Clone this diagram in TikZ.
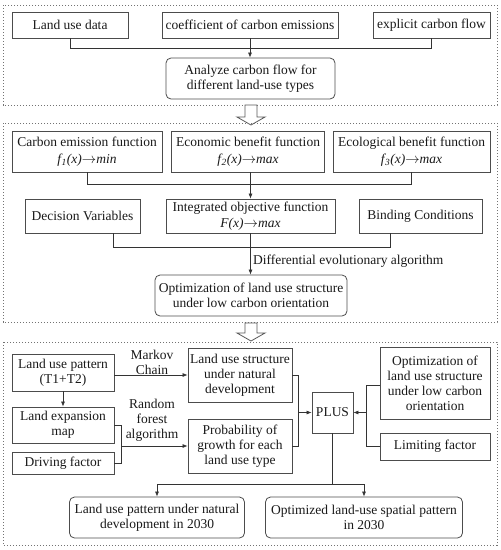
\documentclass[tikz,border=0pt]{standalone}
\usepackage{fontspec}
\setmainfont{Liberation Serif}
\usetikzlibrary{calc,arrows.meta}
\begin{document}
\begin{tikzpicture}[x=1pt,y=-1pt,
  font=\fontsize{13.5}{15}\selectfont,
  box/.style={draw=black!70,line width=0.8pt,inner sep=1pt,align=center,text=black!90},
  rbox/.style={box,rounded corners=5pt},
  fbox/.style={box,font=\fontsize{13.5}{16.5}\selectfont},
  frame/.style={draw=black!55,line width=0.9pt,dash pattern=on 1.1pt off 1.9pt},
  con/.style={draw=black!80,line width=0.7pt},
  arr/.style={con,-{Latex[length=5pt,width=4pt]}},
  hollow/.style={draw=black!65,line width=0.8pt,fill=white},
  lbl/.style={align=center,inner sep=0pt,text=black!90}]
\useasboundingbox (0,0) rectangle (501,550);
% ---------- block 1
\draw[frame] (3,5) rectangle (497,105);
\node[box,minimum width=116pt,minimum height=26pt] (lud) at (70,25) {Land use data};
\node[box,minimum width=176pt,minimum height=26pt] (coef) at (250,25) {coefficient of carbon emissions};
\node[box,minimum width=117pt,minimum height=26pt] (expl) at (431.5,25) {explicit carbon flow};
\node[rbox,minimum width=169pt,minimum height=41pt] (ana) at (250.5,78.5) {Analyze carbon flow for\\different land-use types};
\coordinate (j1) at ($(lud.south)+(0,10)$);
\draw[con] (lud.south) -- (j1) -| (expl.south);
\draw[arr] (coef.south) -- (coef.south |- ana.north);
% hollow arrow 1
\draw[hollow] (245,105) -- (257,105) -- (257,117) -- (265,117) -- (251,125) -- (237,117) -- (245,117) -- cycle;
% ---------- block 2
\draw[frame] (3,123) rectangle (497,322);
\node[fbox,minimum width=150pt,minimum height=41pt] (carb) at (87,151.5) {Carbon emission function\\\textit{f\kern0.5pt\textsubscript{1}(x)}$\rightarrow$\textit{min}};
\node[fbox,minimum width=153pt,minimum height=41pt] (econ) at (248,151.5) {Economic benefit function\\\textit{f\kern0.5pt\textsubscript{2}(x)}$\rightarrow$\textit{max}};
\node[fbox,minimum width=157pt,minimum height=41pt] (ecol) at (411.5,151.5) {Ecological benefit function\\\textit{f\kern0.5pt\textsubscript{3}(x)}$\rightarrow$\textit{max}};
\node[box,minimum width=115pt,minimum height=34pt] (dec) at (82.5,216) {Decision Variables};
\node[fbox,minimum width=169pt,minimum height=34pt] (integ) at (250.5,216) {Integrated objective function\\\textit{F(x)}$\rightarrow$\textit{max}};
\node[box,minimum width=123pt,minimum height=34pt] (bind) at (420.5,216) {Binding Conditions};
\node[rbox,minimum width=192pt,minimum height=41pt] (opt) at (251,295.5) {Optimization of land use structure\\under low carbon orientation};
\coordinate (j2) at ($(carb.south)+(0,12)$);
\draw[con] (carb.south) -- (j2) -| (ecol.south);
\draw[arr] (integ.north |- econ.south) -- (integ.north);
\coordinate (dA) at ($(dec.south east)+(-27,0)$);
\coordinate (bA) at ($(bind.south west)+(32,0)$);
\coordinate (j3) at ($(dA)+(0,14)$);
\draw[con] (dA) -- (j3) -| (bA);
\draw[arr] (integ.south) -- (integ.south |- opt.north);
\node[lbl,anchor=west] (dea) at (253,261) {Differential evolutionary algorithm};
% hollow arrow 2
\draw[hollow] (245,323) -- (257,323) -- (257,333) -- (265,333) -- (251,341) -- (237,333) -- (245,333) -- cycle;
% ---------- block 3
\draw[frame] (3,342) rectangle (497,545);
\node[box,minimum width=102pt,minimum height=37pt] (lup) at (63,372.5) {Land use pattern\\(T1+T2)};
\node[box,minimum width=104pt,minimum height=54pt] (lus) at (240,375) {Land use structure\\under natural\\development};
\node[box,minimum width=102pt,minimum height=36pt] (lem) at (63,425) {Land expansion\\map};
\node[box,minimum width=102pt,minimum height=22pt] (drv) at (63,463) {Driving factor};
\node[box,minimum width=104pt,minimum height=54pt] (prob) at (240,446) {Probability of\\growth for each\\land use type};
\node[box,minimum width=41pt,minimum height=41pt] (plus) at (332.5,412.5) {PLUS};
\node[box,minimum width=110pt,minimum height=72pt] (ropt) at (435,383) {Optimization of\\land use structure\\under low carbon\\orientation};
\node[box,minimum width=110pt,minimum height=27pt] (lim) at (435,446.5) {Limiting factor};
\node[rbox,minimum width=175pt,minimum height=41pt] (res1) at (157,517.5) {Land use pattern under natural\\development in 2030};
\node[rbox,minimum width=197pt,minimum height=41pt] (res2) at (364,517.5) {Optimized land-use spatial pattern\\in 2030};
\node[lbl] (mk) at (152,362.5) {Markov\\Chain};
\node[lbl] (rf) at (152,420.5) {Random\\forest\\algorithm};
\draw[arr] (lup.east |- lus.west) -- (lus.west);
\draw[arr] (lup.south) -- (lem.north);
\coordinate (jl) at ($(lem.east)+(7,0)$);
\draw[con] (lem.east) -- (jl) |- (drv.east);
\draw[arr] (jl |- prob.west) -- (prob.west);
\coordinate (jm) at ($(lus.east)+(6,0)$);
\draw[con] (lus.east) -- (jm) |- (prob.east);
\draw[arr] (jm |- plus.west) -- (plus.west);
\coordinate (jr) at ($(ropt.west)+(-13,2)$);
\draw[con] (ropt.west |- jr) -- (jr) |- (lim.west);
\draw[arr] (jr |- plus.east) -- (plus.east);
\coordinate (jd) at ($(plus.south)+(0,51)$);
\draw[con] (plus.south) -- (jd);
\draw[arr] (jd) -| (res1.north);
\draw[arr] (jd) -| (res2.north);
\end{tikzpicture}
\end{document}
